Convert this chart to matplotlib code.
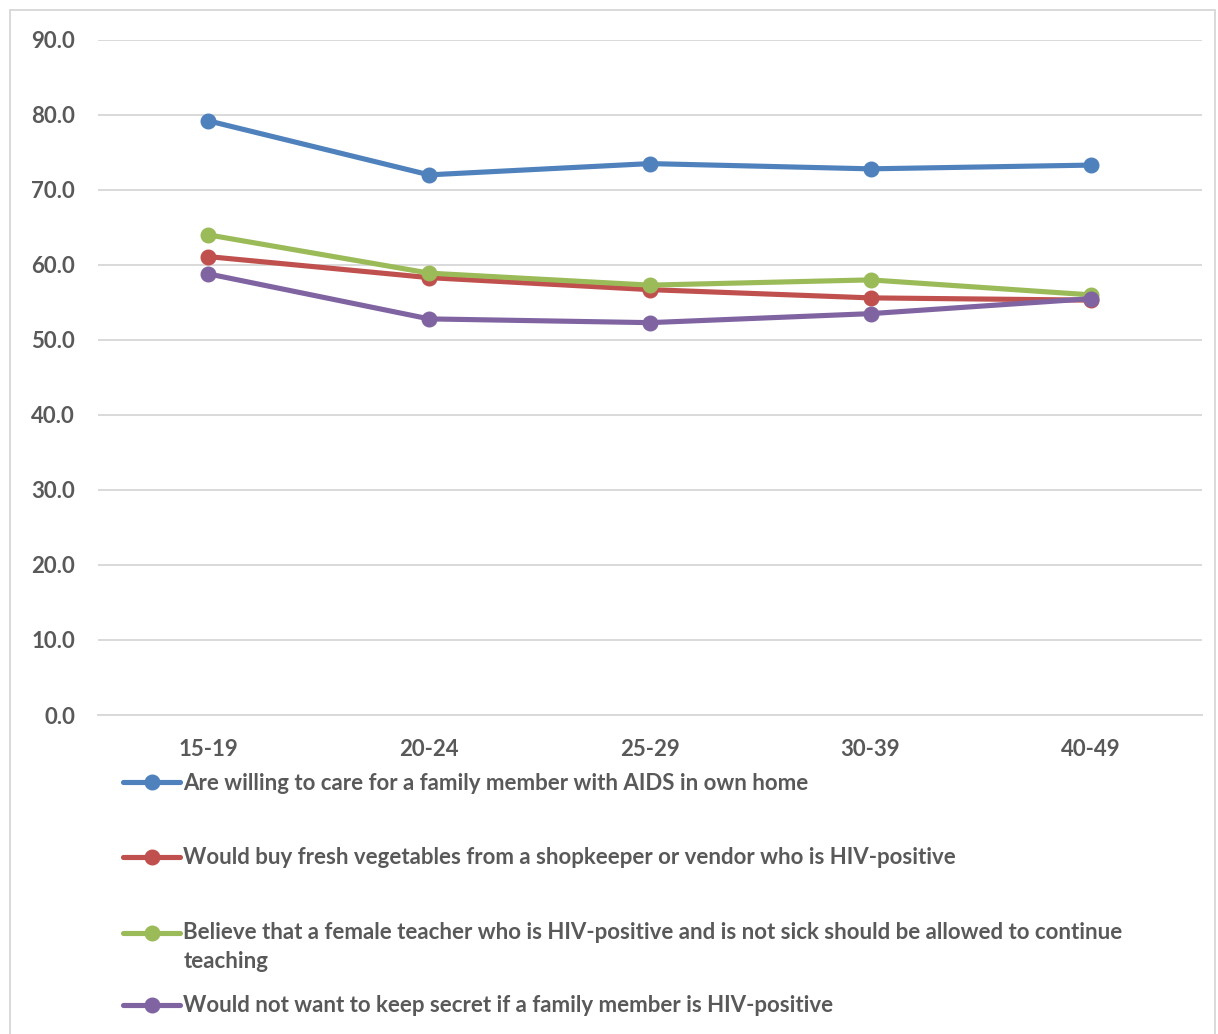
import matplotlib.pyplot as plt
from matplotlib.patches import Rectangle
from matplotlib.legend_handler import HandlerLine2D

age_groups = ["15-19", "20-24", "25-29", "30-39", "40-49"]

care_at_home = [79.2, 72.0, 73.5, 72.8, 73.3]
buy_vegetables = [61.1, 58.3, 56.7, 55.6, 55.3]
teacher_continue = [64.0, 58.9, 57.3, 58.0, 56.0]
not_keep_secret = [58.8, 52.8, 52.3, 53.5, 55.5]

labels = [
    "Are willing to care for a family member with AIDS in own home",
    "Would buy fresh vegetables from a shopkeeper or vendor who is HIV-positive",
    "Believe that a female teacher who is HIV-positive and is not sick should be allowed to continue\nteaching",
    "Would not want to keep secret if a family member is HIV-positive",
]
colors = ["#4F81BD", "#C0504D", "#9BBB59", "#8064A2"]
text_color = "#595959"


class RaisedHandler(HandlerLine2D):
    # keeps the legend line level with the first line of a wrapped label
    def __init__(self, shift, **kw):
        super().__init__(**kw)
        self.shift = shift

    def create_artists(self, legend, orig_handle, xdescent, ydescent,
                       width, height, fontsize, trans):
        return super().create_artists(legend, orig_handle, xdescent,
                                      ydescent - 2 * self.shift, width,
                                      height, fontsize, trans)


plt.rcParams["font.family"] = ["Lato", "DejaVu Sans"]
plt.rcParams["font.weight"] = "bold"

fig = plt.figure(figsize=(12.18, 10.34), dpi=100)
ax = fig.add_axes([0.0805, 0.3085, 0.906, 0.653])

x = range(len(age_groups))
series = [care_at_home, buy_vegetables, teacher_continue, not_keep_secret]
lines = []
for vals, c, lab in zip(series, colors, labels):
    ln, = ax.plot(x, vals, color=c, lw=3.7, marker="o", markersize=10.5,
                  label=lab, solid_capstyle="round")
    lines.append(ln)

ax.set_xlim(-0.5, 4.5)
ax.set_ylim(0, 90)
ax.set_yticks(range(0, 91, 10))
ax.set_yticklabels([f"{v:.1f}" for v in range(0, 91, 10)])
ax.set_xticks(list(x))
ax.set_xticklabels(age_groups)
ax.tick_params(length=0, labelsize=16, labelcolor=text_color)
ax.tick_params(axis="x", pad=17)
ax.tick_params(axis="y", pad=16.5)
ax.grid(axis="y", color="#D9D9D9", lw=1.4)
ax.set_axisbelow(True)
for s in ax.spines.values():
    s.set_visible(False)
ax.spines["bottom"].set_visible(True)
ax.spines["bottom"].set_color("#D9D9D9")
ax.spines["bottom"].set_linewidth(1.4)

# one legend box per entry, placed like the stacked Excel legend
entry_y = [783, 858, 947, 1006]
for ln, lab, yy in zip(lines, labels, entry_y):
    handler = {}
    if "\n" in lab:
        handler = {ln: RaisedHandler(10.8)}
    leg = fig.legend(handles=[ln], labels=[lab], loc="center left",
                     bbox_to_anchor=(123 / 1218, 1 - yy / 1034),
                     frameon=False, fontsize=16, handlelength=2.57,
                     handletextpad=0.14, borderaxespad=0, borderpad=0,
                     handler_map=handler)
    for t in leg.get_texts():
        t.set_color(text_color)
        t.set_linespacing(1.5)

fig.patches.append(Rectangle((10 / 1218, -0.01), 1205 / 1218, 1 - 10 / 1034 + 0.01,
                             transform=fig.transFigure, fill=False,
                             edgecolor="#D9D9D9", lw=1.4))

fig.savefig("out.png", dpi=100)
